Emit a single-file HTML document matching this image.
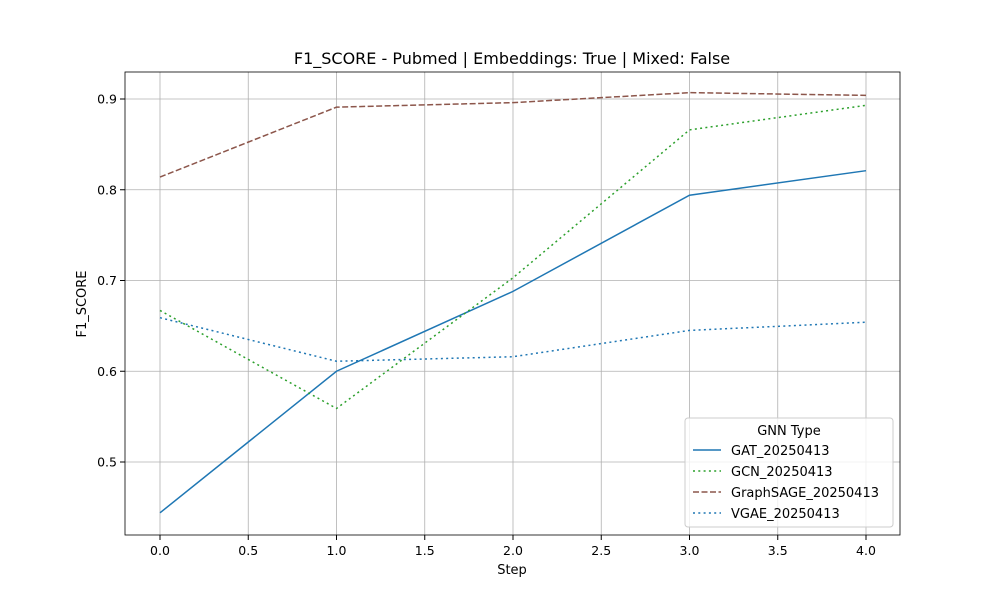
<!DOCTYPE html>
<html><head><meta charset="utf-8"><style>
body{margin:0;background:#fff;font-family:"Liberation Sans","DejaVu Sans",sans-serif;}
svg text{font-family:"DejaVu Sans","Liberation Sans",sans-serif;}
</style></head><body>
<svg id="chart" width="1000" height="600" viewBox="0 0 1000 600">
<rect width="1000" height="600" fill="#fff"/>
<g id="grid"></g><g id="series"></g><g id="axes"></g>
<text x="512" y="64" text-anchor="middle" font-size="16">F1_SCORE - Pubmed | Embeddings: True | Mixed: False</text>
<text x="512" y="574" text-anchor="middle" font-size="13">Step</text>
<text transform="translate(86,304) rotate(-90)" text-anchor="middle" font-size="13">F1_SCORE</text>
<g id="legend"></g>
</svg>
<script>
const steps=[0,1,2,3,4];
const xTicks=[0,0.5,1,1.5,2,2.5,3,3.5,4];
const yTicks=[0.5,0.6,0.7,0.8,0.9];
const seriesNames=["GAT_20250413","GCN_20250413","GraphSAGE_20250413","VGAE_20250413"];
const gatValues=[0.444,0.600,0.688,0.794,0.821];
const gcnValues=[0.667,0.559,0.703,0.866,0.893];
const sageValues=[0.814,0.891,0.896,0.907,0.904];
const vgaeValues=[0.659,0.611,0.616,0.645,0.654];
const L=125,R=900,T=72,B=535;
const x=v=>160+v*176.5;
const y=v=>99+(0.9-v)*907.5;
const NS="http://www.w3.org/2000/svg";
function mk(tag,attrs,parent){const e=document.createElementNS(NS,tag);for(const k in attrs)e.setAttribute(k,attrs[k]);parent.appendChild(e);return e;}
const grid=document.getElementById('grid'),axes=document.getElementById('axes'),ser=document.getElementById('series'),leg=document.getElementById('legend');
xTicks.forEach(t=>{
 const g=mk('line',{x1:x(t),x2:x(t),y1:T,y2:B,stroke:'#b0b0b0','stroke-width':0.8},grid);
 
 
 mk('line',{x1:x(t),x2:x(t),y1:B,y2:B+5,stroke:'#000'},axes);
 const tx=mk('text',{x:x(t),y:B+20,'text-anchor':'middle','font-size':12.5},axes);tx.textContent=t.toFixed(1);
 
 
});
yTicks.forEach(t=>{
 const g=mk('line',{x1:L,x2:R,y1:y(t),y2:y(t),stroke:'#b0b0b0','stroke-width':0.8},grid);
 
 
 mk('line',{x1:L-5,x2:L,y1:y(t),y2:y(t),stroke:'#000'},axes);
 const tx=mk('text',{x:L-8,y:y(t)+4.5,'text-anchor':'end','font-size':12.5},axes);tx.textContent=t.toFixed(1);
 
 
});
const frame=mk('rect',{x:L,y:T,width:R-L,height:B-T,fill:'none',stroke:'#000','stroke-width':0.8},axes);


const styles=[{c:'#1f77b4',d:''},{c:'#2ca02c',d:'2,3.3'},{c:'#8c564b',d:'6,2.5'},{c:'#1f77b4',d:'2,3.3'}];
const data=[gatValues,gcnValues,sageValues,vgaeValues];
data.forEach((vals,i)=>{
 const p=mk('polyline',{points:steps.map((s,j)=>x(s)+','+y(vals[j])).join(' '),fill:'none',stroke:styles[i].c,'stroke-width':1.5,'stroke-dasharray':styles[i].d},ser);
 
 
});
const box=mk('rect',{x:685,y:418,width:208,height:109,rx:3,fill:'#fff','fill-opacity':0.8,stroke:'#ccc'},leg);


const lt=mk('text',{x:789,y:435,'text-anchor':'middle','font-size':13},leg);lt.textContent='GNN Type';


seriesNames.forEach((n,i)=>{
 const yy=450+i*21;
 mk('line',{x1:693,x2:721,y1:yy,y2:yy,stroke:styles[i].c,'stroke-width':1.5,'stroke-dasharray':styles[i].d},leg);
 const t=mk('text',{x:731,y:yy+5,'font-size':13},leg);t.textContent=n;
 
 
});
</script>
</body></html>
